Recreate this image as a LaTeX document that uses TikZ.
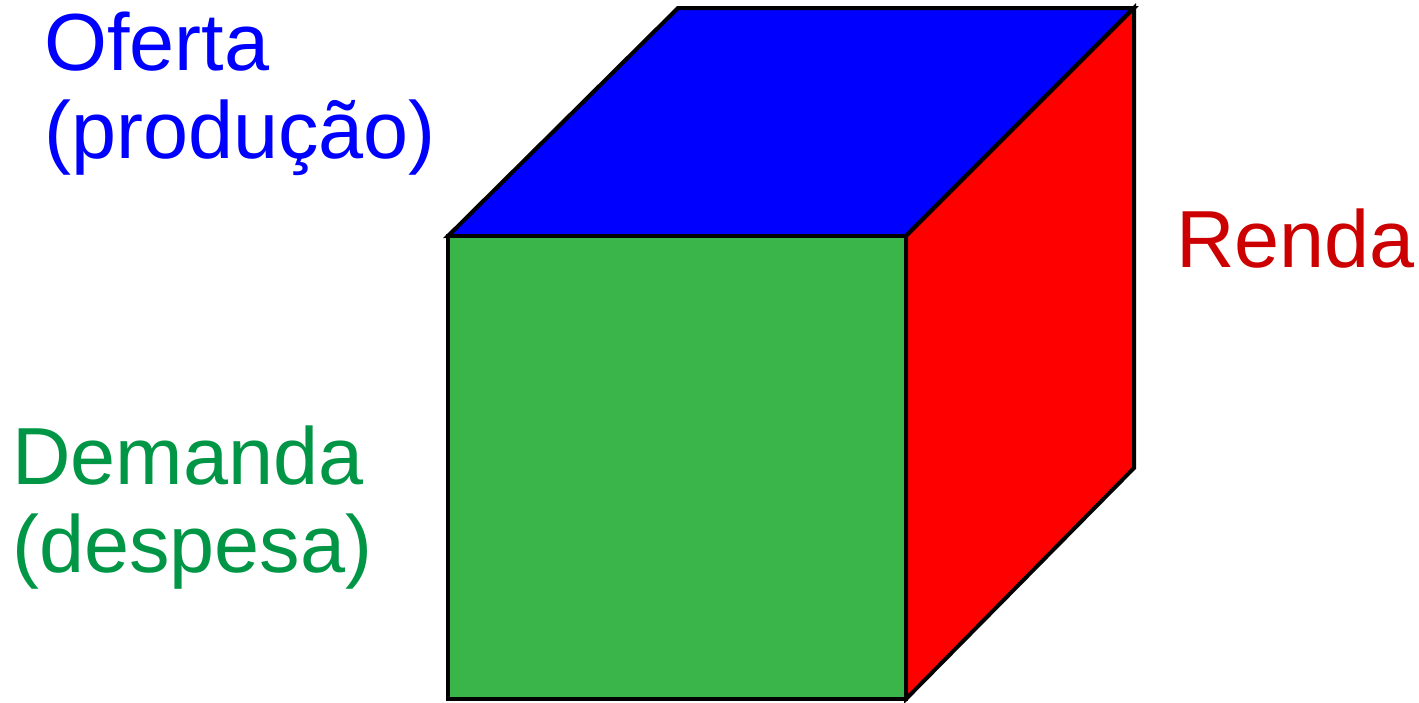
\documentclass[tikz,border=0pt]{standalone}
\usepackage{fontspec}
\setmainfont{Liberation Sans}
\usepackage{xcolor}
\usetikzlibrary{positioning}

\definecolor{offerblue}{RGB}{0,0,255}
\definecolor{incomered}{RGB}{255,0,0}
\definecolor{incomelabel}{RGB}{204,0,0}
\definecolor{demandgreen}{RGB}{57,181,74}
\definecolor{demandlabel}{RGB}{0,150,70}

\begin{document}
\begin{tikzpicture}[
    x=1pt, y=-1pt,
    every node/.style={font=\fontsize{81}{88}\selectfont, inner sep=0pt},
    face/.style={draw=black, line width=4pt, line join=miter},
    lbl/.style={anchor=base west, align=left}
]
\useasboundingbox (0,0) rectangle (1419,702);

% corners of the cube
\coordinate (fbl) at (448,699);
\coordinate (fbr) at (906,699);
\coordinate (ftl) at (448,236);
\coordinate (ftr) at (906,236);
\coordinate (btl) at (678,8);
\coordinate (btr) at (1134,8);
\coordinate (bbr) at (1134,468);

% faces
\draw[face, fill=offerblue] (ftl) -- (btl) -- (btr) -- (ftr) -- cycle;
\draw[face, fill=incomered] (ftr) -- (btr) -- (bbr) -- (fbr) -- cycle;
\draw[face, fill=demandgreen] (fbl) rectangle (ftr);

% labels (base = last line)
\node[lbl, text=offerblue] (oferta) at (44,158) {Oferta\\(produção)};
\node[lbl, text=incomelabel] (renda) at (1176,267) {Renda};
\node[lbl, text=demandlabel] (demanda) at (12,572) {Demanda\\(despesa)};

\end{tikzpicture}
\end{document}
